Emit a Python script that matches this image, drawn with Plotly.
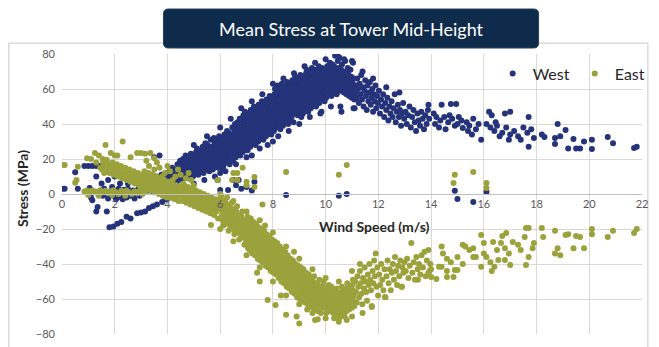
import plotly.graph_objects as go

# Mean stress readings (wind speed m/s, stress MPa), grouped by region of the curve.

west_low = [
    (0.0, 3), (0.1, 3), (0.5, 12.5), (0.6, 3), (0.85, 16), (1.0, 16), (1.15, 16),
    (1.3, 16), (1.45, 16), (1.6, 16), (1.3, 10), (1.05, 3.4), (1.1, -2), (1.15, -3.5),
    (1.3, -10), (1.35, -7.4), (1.7, -10), (1.8, -19), (1.95, -18.5), (2.1, -17),
    (2.25, -16), (2.45, -13), (2.6, -14), (2.85, -11), (3.0, -10.5), (3.15, -10),
    (3.3, -8), (3.45, -7), (3.6, -6), (3.8, -4.5), (3.95, -3), (4.1, -2), (4.25, 0),
    (1.45, 2), (1.55, -1), (1.6, 3), (1.7, 0), (1.75, -2.5), (1.85, 1.5), (1.9, 4),
    (1.95, -1), (2.0, 2), (2.05, -3), (2.1, 0.5), (2.15, 3), (2.2, -1.5), (2.25, 1),
    (2.3, -3), (2.35, 2.5), (2.4, 0), (2.45, -2), (2.5, 3), (2.55, 1), (2.6, -1),
    (2.7, 2), (2.75, -2.5), (2.8, 0.5), (2.9, 3), (2.95, -1), (1.5, 6), (1.75, 8),
    (2.2, 6), (2.5, 6), (2.0, 10), (2.7, 8), (1.9, 15), (2.2, 15),
]

west_rise = [
    (3.02, 2), (3.05, 6), (3.08, 4), (3.12, 1), (3.15, 5), (3.18, 8), (3.22, 3), (3.26, 7),
    (3.31, 2), (3.34, 5), (3.37, 9), (3.42, 4), (3.46, 7), (3.48, 1), (3.51, 6), (3.54, 3),
    (3.57, 10), (3.61, 5), (3.63, 8), (3.67, 2), (3.71, 7), (3.74, 4), (3.77, 11), (3.81, 6),
    (3.84, 9), (3.87, 3), (3.91, 8), (3.93, 5), (3.97, 12), (3.5, 21), (3.7, 22),
    (4.01, 7), (4.03, 10), (4.06, 4), (4.08, 13), (4.11, 9), (4.13, 6), (4.16, 12), (4.18, 15),
    (4.21, 8), (4.23, 11), (4.26, 14), (4.28, 5), (4.31, 10), (4.34, 13), (4.36, 7), (4.38, 17),
    (4.41, 12), (4.43, 9), (4.46, 15), (4.48, 19), (4.51, 11), (4.53, 14), (4.55, 8), (4.57, 17),
    (4.59, 20), (4.61, 13), (4.63, 10), (4.65, 16), (4.68, 19), (4.69, 22), (4.71, 12), (4.73, 15),
    (4.76, 18), (4.78, 9), (4.79, 21), (4.81, 14), (4.83, 17), (4.85, 11), (4.87, 20), (4.89, 23),
    (4.91, 13), (4.93, 16), (4.95, 19), (4.97, 10), (4.99, 22),
    (5.01, 15), (5.03, 18), (5.05, 12), (5.07, 21), (5.09, 24), (5.11, 14), (5.13, 17), (5.15, 20),
    (5.17, 11), (5.19, 23), (5.12, 26), (5.21, 16), (5.23, 19), (5.25, 13), (5.27, 22), (5.29, 25),
    (5.31, 15), (5.33, 18), (5.35, 21), (5.37, 12), (5.39, 24), (5.34, 27), (5.41, 17), (5.43, 20),
    (5.45, 14), (5.47, 23), (5.49, 26), (5.44, 29), (5.51, 16), (5.53, 19), (5.55, 22), (5.57, 25),
    (5.59, 13), (5.52, 28), (5.61, 18), (5.63, 21), (5.65, 15), (5.67, 24), (5.69, 27), (5.64, 31),
    (5.71, 17), (5.73, 20), (5.75, 23), (5.77, 26), (5.79, 29), (5.72, 14), (5.76, 32),
    (5.81, 19), (5.83, 22), (5.85, 16), (5.87, 25), (5.89, 28), (5.84, 31),
    (5.91, 18), (5.93, 21), (5.95, 24), (5.97, 27), (5.99, 30), (5.92, 15), (5.96, 33),
    (6.01, 20), (6.03, 23), (6.05, 17), (6.07, 26), (6.09, 29), (6.04, 32),
    (6.11, 19), (6.13, 22), (6.15, 25), (6.17, 28), (6.19, 31), (6.12, 16), (6.16, 34),
    (6.21, 21), (6.23, 24), (6.25, 18), (6.27, 27), (6.29, 30), (6.24, 33), (6.26, 36),
    (6.31, 20), (6.33, 23), (6.35, 26), (6.37, 29), (6.39, 32), (6.32, 35), (6.36, 17),
    (6.41, 22), (6.43, 25), (6.45, 28), (6.47, 31), (6.49, 19), (6.44, 34), (6.46, 38),
    (6.51, 24), (6.53, 27), (6.55, 30), (6.57, 33), (6.59, 21), (6.54, 36), (6.56, 40),
    (6.61, 23), (6.63, 26), (6.65, 29), (6.67, 32), (6.69, 35), (6.62, 38), (6.66, 41),
    (6.71, 25), (6.73, 28), (6.75, 31), (6.77, 34), (6.79, 37), (6.72, 40), (6.76, 22), (6.74, 43),
    (6.81, 27), (6.83, 30), (6.85, 33), (6.87, 36), (6.89, 39), (6.82, 42), (6.86, 24), (6.88, 45),
    (6.91, 26), (6.93, 29), (6.95, 32), (6.97, 35), (6.99, 38), (6.92, 41), (6.96, 44), (6.94, 47),
    (7.01, 28), (7.03, 31), (7.05, 34), (7.07, 37), (7.09, 40), (7.02, 43), (7.06, 46), (7.04, 25),
    (7.11, 30), (7.13, 33), (7.15, 36), (7.17, 39), (7.19, 42), (7.12, 45), (7.16, 48), (7.14, 27),
    (7.21, 29), (7.23, 32), (7.25, 35), (7.27, 38), (7.29, 41), (7.22, 44), (7.26, 47), (7.28, 50),
    (7.31, 31), (7.33, 34), (7.35, 37), (7.37, 40), (7.39, 43), (7.32, 46), (7.36, 49), (7.34, 28),
    (7.41, 33), (7.43, 36), (7.45, 39), (7.47, 42), (7.49, 45), (7.42, 48), (7.46, 51), (7.44, 30),
    (7.51, 32), (7.53, 35), (7.55, 38), (7.57, 41), (7.59, 44), (7.52, 47), (7.56, 50), (7.58, 53),
    (7.61, 34), (7.63, 37), (7.65, 40), (7.67, 43), (7.69, 46), (7.62, 49), (7.66, 52), (7.64, 31),
    (7.71, 36), (7.73, 39), (7.75, 42), (7.77, 45), (7.79, 48), (7.72, 51), (7.76, 54), (7.74, 33),
    (7.81, 35), (7.83, 38), (7.85, 41), (7.87, 44), (7.89, 47), (7.82, 50), (7.86, 53), (7.88, 56),
    (7.91, 37), (7.93, 40), (7.95, 43), (7.97, 46), (7.99, 49), (7.92, 52), (7.96, 55), (7.94, 34),
]

west_peak = [
    (8.01, 39), (8.03, 42), (8.05, 45), (8.07, 48), (8.09, 51), (8.02, 54), (8.06, 57), (8.04, 36), (8.08, 60),
    (8.11, 38), (8.13, 41), (8.15, 44), (8.17, 47), (8.19, 50), (8.12, 53), (8.16, 56), (8.14, 59), (8.18, 62),
    (8.21, 40), (8.23, 43), (8.25, 46), (8.27, 49), (8.29, 52), (8.22, 55), (8.26, 58), (8.24, 61), (8.28, 37),
    (8.31, 42), (8.33, 45), (8.35, 48), (8.37, 51), (8.39, 54), (8.32, 57), (8.36, 60), (8.34, 63), (8.38, 39),
    (8.41, 41), (8.43, 44), (8.45, 47), (8.47, 50), (8.49, 53), (8.42, 56), (8.46, 59), (8.44, 62),
    (8.51, 43), (8.53, 46), (8.55, 49), (8.57, 52), (8.59, 55), (8.52, 58), (8.56, 61), (8.54, 64), (8.58, 40),
    (8.61, 45), (8.63, 48), (8.65, 51), (8.67, 54), (8.69, 57), (8.62, 60), (8.66, 63), (8.64, 42),
    (8.71, 44), (8.73, 47), (8.75, 50), (8.77, 53), (8.79, 56), (8.72, 59), (8.76, 62), (8.74, 65), (8.78, 41),
    (8.81, 46), (8.83, 49), (8.85, 52), (8.87, 55), (8.89, 58), (8.82, 61), (8.86, 64), (8.84, 67),
    (8.91, 48), (8.93, 51), (8.95, 54), (8.97, 57), (8.99, 60), (8.92, 63), (8.96, 66), (8.94, 45),
    (9.01, 47), (9.03, 50), (9.05, 53), (9.07, 56), (9.09, 59), (9.02, 62), (9.06, 65), (9.04, 68), (9.08, 44),
    (9.11, 49), (9.13, 52), (9.15, 55), (9.17, 58), (9.19, 61), (9.12, 64), (9.16, 67), (9.14, 46),
    (9.21, 51), (9.23, 54), (9.25, 57), (9.27, 60), (9.29, 63), (9.22, 66), (9.26, 69), (9.24, 48), (9.28, 71),
    (9.31, 50), (9.33, 53), (9.35, 56), (9.37, 59), (9.39, 62), (9.32, 65), (9.36, 68), (9.34, 47),
    (9.41, 52), (9.43, 55), (9.45, 58), (9.47, 61), (9.49, 64), (9.42, 67), (9.46, 70), (9.44, 49), (9.48, 72),
    (9.51, 54), (9.53, 57), (9.55, 60), (9.57, 63), (9.59, 66), (9.52, 69), (9.56, 51),
    (9.61, 53), (9.63, 56), (9.65, 59), (9.67, 62), (9.69, 65), (9.62, 68), (9.66, 71), (9.64, 50),
    (9.71, 55), (9.73, 58), (9.75, 61), (9.77, 64), (9.79, 67), (9.72, 70), (9.76, 52), (9.74, 73),
    (9.81, 57), (9.83, 60), (9.85, 63), (9.87, 66), (9.89, 69), (9.82, 54), (9.86, 72), (9.84, 47),
    (9.91, 56), (9.93, 59), (9.95, 62), (9.97, 65), (9.99, 68), (9.92, 71), (9.96, 53),
    (10.01, 58), (10.03, 61), (10.05, 64), (10.07, 67), (10.09, 70), (10.02, 55), (10.06, 73),
    (10.11, 60), (10.13, 63), (10.15, 66), (10.17, 69), (10.19, 57), (10.12, 72), (10.16, 75),
    (10.21, 59), (10.23, 62), (10.25, 65), (10.27, 68), (10.29, 71), (10.22, 56), (10.26, 74),
    (10.31, 61), (10.33, 64), (10.35, 67), (10.37, 70), (10.39, 58), (10.32, 73), (10.36, 79),
    (10.41, 60), (10.43, 63), (10.45, 66), (10.47, 69), (10.49, 72), (10.42, 57), (10.46, 76),
    (10.51, 62), (10.53, 65), (10.55, 68), (10.57, 59), (10.59, 71), (10.52, 78), (10.56, 50),
    (10.61, 61), (10.63, 64), (10.65, 67), (10.67, 70), (10.69, 58), (10.62, 74),
    (10.71, 63), (10.73, 66), (10.75, 60), (10.77, 69), (10.79, 57), (10.74, 76),
    (10.81, 62), (10.83, 65), (10.85, 59), (10.87, 68), (10.89, 56), (10.84, 72),
    (10.91, 61), (10.93, 64), (10.95, 58), (10.97, 67), (10.99, 55), (10.94, 71),
    (11.01, 60), (11.03, 63), (11.05, 57), (11.07, 66), (11.09, 54), (11.04, 75), (11.06, 49),
]

# scattered readings along both edges of the west band
west_fringe = [
    (5.0, 6), (5.4, 8), (5.8, 10), (6.2, 13), (6.6, 17), (7.0, 21), (7.5, 26), (7.8, 28),
    (8.2, 33), (8.6, 36), (9.0, 40), (9.4, 44), (9.8, 46), (10.2, 50), (10.6, 47), (11.1, 49),
    (8.0, 30), (7.2, 22),
    (5.0, 28), (5.5, 33), (6.0, 38), (6.4, 43), (6.8, 49), (7.2, 53), (7.6, 57), (8.0, 63),
    (8.4, 66), (8.8, 69), (9.2, 73), (9.6, 75), (10.0, 77), (10.45, 79), (10.7, 77), (11.0, 76),
    (11.4, 70), (11.8, 66), (12.3, 61), (12.8, 58),
]

west_tail = [
    (11.12, 58), (11.15, 62), (11.18, 55), (11.2, 66), (11.23, 60), (11.26, 52), (11.29, 63), (11.32, 57),
    (11.35, 68), (11.38, 54), (11.41, 61), (11.44, 50), (11.47, 59), (11.5, 65), (11.53, 56), (11.56, 48),
    (11.59, 62), (11.62, 53), (11.65, 58), (11.68, 64), (11.71, 51), (11.74, 55), (11.77, 60), (11.8, 47),
    (11.83, 57), (11.86, 53), (11.89, 62), (11.92, 49), (11.95, 56), (11.98, 52),
    (12.02, 59), (12.06, 46), (12.1, 54), (12.14, 50), (12.18, 57), (12.22, 44), (12.26, 52), (12.3, 48),
    (12.34, 55), (12.38, 42), (12.42, 50), (12.46, 46), (12.5, 53), (12.54, 44), (12.58, 49), (12.62, 57),
    (12.66, 41), (12.7, 47), (12.74, 51), (12.78, 44), (12.82, 48), (12.86, 39), (12.9, 46), (12.94, 52),
    (12.98, 43),
    (13.03, 47), (13.08, 40), (13.13, 45), (13.18, 50), (13.23, 38), (13.28, 44), (13.33, 48), (13.38, 41),
    (13.43, 36), (13.48, 46), (13.53, 42), (13.58, 39), (13.63, 47), (13.68, 43), (13.73, 37), (13.78, 45),
    (13.83, 40), (13.88, 48), (13.93, 43),
    (13.9, 51), (14.1, 46), (14.4, 51), (14.75, 51.4), (14.95, 51.4), (14.2, 44), (14.35, 42), (14.5, 44),
    (14.65, 41), (14.8, 43), (14.9, 39), (15.05, 44), (14.15, 40), (14.3, 38), (14.55, 37), (14.7, 45),
    (15.0, 40), (15.35, 41), (15.2, 37.7), (15.4, 36), (15.55, 34), (15.7, 37), (15.9, 31), (15.15, 42),
    (15.45, 39), (15.8, 40), (15.6, 43),
    (16.2, 47), (16.3, 45), (16.1, 40), (16.25, 38), (16.4, 36), (16.5, 39), (16.6, 33), (16.7, 35),
    (16.8, 46), (17.0, 47), (16.85, 38), (17.0, 34), (17.15, 36), (17.3, 33), (17.4, 31), (16.45, 41),
    (16.95, 31), (17.7, 44), (17.5, 38), (17.65, 35), (17.8, 37), (17.7, 27), (17.9, 32),
    (18.2, 34), (18.3, 32.6), (18.7, 28.6), (18.8, 40), (18.7, 32), (18.9, 33), (19.1, 36.6), (19.2, 26),
    (19.4, 31.5), (19.5, 26), (19.65, 26), (19.8, 30), (20.1, 31), (20.1, 25.7), (20.7, 32.6), (20.9, 29),
    (21.7, 26.3), (21.8, 27),
]

west_outliers = [
    (5.9, 8), (6.0, 2.3), (6.3, 2.3), (6.5, 8), (6.7, 8), (6.8, 3), (7.0, 4), (7.3, 7), (7.2, 2),
    (6.6, 5), (8.5, -0.6), (10.5, -1), (10.8, 0), (14.9, 1.8), (15.0, -2.8), (15.6, -4.6), (16.1, 1.2),
    (6.0, 12), (6.1, 14),
]

east_low = [
    (0.0, 16.6), (0.1, 16.6), (0.6, 15.6), (0.5, 6.5), (0.55, 8), (0.95, 20.5), (1.1, 20), (1.25, 23.4),
    (1.4, 22), (1.55, 20), (1.7, 19.4), (1.65, 28), (2.3, 30), (2.0, 22), (2.1, 22), (2.6, 21),
    (2.85, 23.4), (3.0, 23.5), (3.15, 23), (3.35, 23.4), (3.5, 20.5), (1.85, 23.4), (1.3, 18), (1.45, 15),
    (1.6, 12), (1.8, 14),
    (0.85, 1.5), (0.95, 2), (1.05, 1), (1.15, 2), (1.25, 1.5), (1.35, 0.5), (1.45, 2), (1.55, 1),
    (1.65, 1.8), (1.75, 0.5), (1.85, 1.5), (1.95, 2.2), (2.05, 1), (2.15, 0), (2.25, 1.8), (2.35, 0.8),
    (2.45, 2), (2.55, 1), (2.65, 0), (2.75, 1.5), (2.85, 0.5), (2.95, 1.8), (3.05, 0), (3.15, 1),
    (1.0, -0.5), (1.4, -1), (1.9, -0.5), (2.4, -1),
]

east_fall = [
    (1.52, 14), (1.56, 18), (1.6, 16), (1.64, 13), (1.68, 19), (1.72, 15), (1.76, 17), (1.8, 12),
    (1.84, 16), (1.88, 14), (1.92, 18), (1.96, 11), (2.0, 15), (2.04, 13), (2.08, 17), (2.12, 10),
    (2.16, 14), (2.2, 12), (2.24, 16), (2.28, 9), (2.32, 13), (2.36, 11), (2.4, 15), (2.44, 8),
    (2.48, 12), (2.52, 10), (2.56, 14), (2.6, 7), (2.64, 11), (2.68, 9), (2.72, 13), (2.76, 6),
    (2.8, 10), (2.84, 8), (2.88, 12), (2.92, 5), (2.96, 9),
    (3.01, 7), (3.04, 11), (3.07, 4), (3.1, 9), (3.13, 13), (3.16, 6), (3.19, 10), (3.22, 3),
    (3.25, 8), (3.28, 12), (3.31, 5), (3.34, 9), (3.37, 2), (3.4, 7), (3.43, 11), (3.46, 4),
    (3.49, 8), (3.52, 1), (3.55, 6), (3.58, 10), (3.61, 3), (3.64, 7), (3.67, 0), (3.7, 5),
    (3.73, 9), (3.76, 2), (3.79, 6), (3.82, -1), (3.85, 4), (3.88, 8), (3.91, 1), (3.94, 5),
    (3.97, -2), (4.0, 3), (4.03, 7), (4.06, 0), (4.09, 4), (4.12, -2), (4.15, 2), (4.18, 6),
    (4.21, -1), (4.24, 3), (4.27, -3), (4.3, 1), (4.33, 5), (4.36, -2), (4.39, 2), (4.42, -4),
    (4.45, 0), (4.48, 4),
    (3.3, 16), (3.5, 14), (3.7, 15), (3.9, 12), (4.1, 13), (4.3, 10), (4.5, 11), (4.7, 9),
    (4.9, 8), (3.6, 18), (4.0, 16), (4.4, 14), (4.8, 12), (4.2, 8), (4.6, 6), (5.0, 5),
    (3.2, 19), (3.8, 10),
    (4.51, -1), (4.54, 3), (4.57, -4), (4.6, 1), (4.63, 5), (4.66, -2), (4.69, 2), (4.72, -5),
    (4.75, 0), (4.78, 4), (4.81, -3), (4.84, 1), (4.87, -6), (4.9, -1), (4.93, 3), (4.96, -4),
    (4.99, 0), (5.02, -7), (5.05, -2), (5.08, 2), (5.11, -5), (5.14, -1), (5.17, -8), (5.2, -3),
    (5.23, 1), (5.26, -6), (5.29, -2), (5.32, -9), (5.35, -4), (5.38, 0), (5.41, -7), (5.44, -3),
    (5.47, -10), (5.5, -5), (5.53, -1), (5.56, -8), (5.59, -4), (5.62, -11), (5.65, -6), (5.68, -2),
    (5.71, -9), (5.74, -5), (5.77, -12), (5.8, -7), (5.83, -3), (5.86, -10), (5.89, -6), (5.92, -14),
    (5.95, -8), (5.98, -4),
    (6.01, -3), (6.03, -6), (6.05, -9), (6.07, -12), (6.09, -15), (6.04, -1),
    (6.11, -4), (6.13, -7), (6.15, -10), (6.17, -13), (6.19, -16), (6.12, -18),
    (6.21, -5), (6.23, -8), (6.25, -11), (6.27, -14), (6.29, -17), (6.26, -2),
    (6.31, -7), (6.33, -10), (6.35, -13), (6.37, -16), (6.39, -19), (6.32, -21),
    (6.41, -8), (6.43, -11), (6.45, -14), (6.47, -17), (6.49, -20), (6.44, -5),
    (6.51, -9), (6.53, -12), (6.55, -15), (6.57, -18), (6.59, -21), (6.54, -23),
    (6.61, -10), (6.63, -13), (6.65, -16), (6.67, -19), (6.69, -22), (6.64, -7),
    (6.71, -12), (6.73, -15), (6.75, -18), (6.77, -21), (6.79, -24), (6.72, -26),
    (6.81, -13), (6.83, -16), (6.85, -19), (6.87, -22), (6.89, -25), (6.84, -10),
    (6.91, -15), (6.93, -18), (6.95, -21), (6.97, -24), (6.99, -27), (6.92, -29),
    (7.01, -16), (7.03, -19), (7.05, -22), (7.07, -25), (7.09, -28), (7.04, -13), (7.06, -31),
    (7.11, -17), (7.13, -20), (7.15, -23), (7.17, -26), (7.19, -29), (7.12, -32), (7.16, -14),
    (7.21, -19), (7.23, -22), (7.25, -25), (7.27, -28), (7.29, -31), (7.22, -34), (7.26, -16),
    (7.31, -20), (7.33, -23), (7.35, -26), (7.37, -29), (7.39, -32), (7.32, -35), (7.36, -17),
    (7.41, -22), (7.43, -25), (7.45, -28), (7.47, -31), (7.49, -34), (7.42, -37), (7.46, -19),
    (7.51, -23), (7.53, -26), (7.55, -29), (7.57, -32), (7.59, -35), (7.52, -38), (7.56, -20),
    (7.61, -24), (7.63, -27), (7.65, -30), (7.67, -33), (7.69, -36), (7.62, -39), (7.66, -21),
    (7.71, -26), (7.73, -29), (7.75, -32), (7.77, -35), (7.79, -38), (7.72, -41), (7.76, -23),
    (7.81, -27), (7.83, -30), (7.85, -33), (7.87, -36), (7.89, -39), (7.82, -42), (7.86, -24),
    (7.91, -29), (7.93, -32), (7.95, -35), (7.97, -38), (7.99, -41), (7.92, -44), (7.96, -26),
]

east_trough = [
    (8.01, -30), (8.03, -33), (8.05, -36), (8.07, -39), (8.09, -42), (8.02, -45), (8.06, -27),
    (8.11, -31), (8.13, -34), (8.15, -37), (8.17, -40), (8.19, -43), (8.12, -46), (8.16, -28),
    (8.21, -33), (8.23, -36), (8.25, -39), (8.27, -42), (8.29, -45), (8.22, -48), (8.26, -30),
    (8.31, -35), (8.33, -38), (8.35, -41), (8.37, -44), (8.39, -47), (8.32, -50), (8.36, -32),
    (8.41, -36), (8.43, -39), (8.45, -42), (8.47, -45), (8.49, -48), (8.42, -51), (8.46, -33),
    (8.51, -38), (8.53, -41), (8.55, -44), (8.57, -47), (8.59, -50), (8.52, -53), (8.56, -35),
    (8.61, -39), (8.63, -42), (8.65, -45), (8.67, -48), (8.69, -51), (8.62, -54), (8.66, -37),
    (8.71, -41), (8.73, -44), (8.75, -47), (8.77, -50), (8.79, -53), (8.72, -56), (8.76, -38),
    (8.81, -42), (8.83, -45), (8.85, -48), (8.87, -51), (8.89, -54), (8.82, -57), (8.86, -40),
    (8.91, -44), (8.93, -47), (8.95, -50), (8.97, -53), (8.99, -56), (8.92, -59), (8.96, -41),
    (9.01, -45), (9.03, -48), (9.05, -51), (9.07, -54), (9.09, -57), (9.02, -60), (9.06, -42),
    (9.11, -46), (9.13, -49), (9.15, -52), (9.17, -55), (9.19, -58), (9.12, -61), (9.16, -43),
    (9.21, -47), (9.23, -50), (9.25, -53), (9.27, -56), (9.29, -59), (9.22, -62), (9.26, -45),
    (9.31, -48), (9.33, -51), (9.35, -54), (9.37, -57), (9.39, -60), (9.32, -63), (9.36, -46),
    (9.41, -49), (9.43, -52), (9.45, -55), (9.47, -58), (9.49, -61), (9.42, -64),
    (9.51, -50), (9.53, -53), (9.55, -56), (9.57, -59), (9.59, -62), (9.52, -65), (9.56, -47),
    (9.61, -51), (9.63, -54), (9.65, -57), (9.67, -60), (9.69, -63), (9.62, -66),
    (9.71, -52), (9.73, -55), (9.75, -58), (9.77, -61), (9.79, -64), (9.72, -67), (9.76, -49),
    (9.81, -53), (9.83, -56), (9.85, -59), (9.87, -62), (9.89, -65), (9.82, -68),
    (9.91, -53), (9.93, -56), (9.95, -59), (9.97, -62), (9.99, -65), (9.92, -50),
    (10.01, -54), (10.03, -57), (10.05, -60), (10.07, -63), (10.09, -66), (10.02, -68),
    (10.11, -55), (10.13, -58), (10.15, -61), (10.17, -64), (10.19, -67), (10.12, -52),
    (10.21, -56), (10.23, -59), (10.25, -62), (10.27, -65), (10.29, -68), (10.22, -53),
    (10.31, -56), (10.33, -59), (10.35, -62), (10.37, -65), (10.39, -68), (10.32, -71),
    (10.41, -57), (10.43, -60), (10.45, -63), (10.47, -66), (10.49, -69), (10.42, -54),
    (10.51, -57), (10.53, -60), (10.55, -63), (10.57, -66), (10.59, -69), (10.52, -71),
    (10.61, -56), (10.63, -59), (10.65, -62), (10.67, -65), (10.69, -68), (10.62, -53),
    (10.71, -55), (10.73, -58), (10.75, -61), (10.77, -64), (10.79, -67), (10.72, -70),
    (10.81, -54), (10.83, -57), (10.85, -60), (10.87, -63), (10.89, -66), (10.82, -51),
    (10.91, -53), (10.93, -56), (10.95, -59), (10.97, -62), (10.99, -65),
    (11.01, -52), (11.03, -55), (11.05, -58), (11.07, -61), (11.09, -64), (11.04, -49),
]

# scattered readings along both edges of the east band
east_fringe = [
    (6.0, 0), (6.5, -4), (7.0, -10), (7.5, -15), (7.7, -18), (8.0, -22), (8.5, -30), (8.8, -33),
    (9.0, -37), (9.5, -43), (10.0, -48), (10.5, -50), (11.0, -44), (11.3, -40),
    (6.0, -20), (6.5, -27), (7.0, -35), (7.5, -42), (8.0, -50), (8.5, -58), (9.0, -63),
    (9.3, -66), (9.5, -68), (10.0, -71), (10.5, -73), (10.8, -72), (11.0, -70), (11.4, -68),
]

east_tail = [
    (11.12, -50), (11.15, -56), (11.18, -62), (11.21, -47), (11.24, -53), (11.27, -59), (11.3, -44),
    (11.33, -51), (11.36, -57), (11.39, -63), (11.42, -48), (11.45, -54), (11.48, -42), (11.51, -50),
    (11.54, -56), (11.57, -61), (11.6, -46), (11.63, -52), (11.66, -40), (11.69, -49), (11.72, -55),
    (11.75, -64), (11.78, -44), (11.81, -51), (11.84, -38), (11.87, -47), (11.9, -34), (11.93, -53),
    (11.96, -42), (11.99, -58),
    (12.03, -46), (12.07, -52), (12.11, -40), (12.15, -49), (12.19, -55), (12.23, -43), (12.27, -59),
    (12.31, -47), (12.35, -38), (12.39, -51), (12.43, -43), (12.47, -55), (12.51, -45), (12.55, -40),
    (12.59, -49), (12.63, -36), (12.67, -44), (12.71, -52), (12.75, -41), (12.79, -47), (12.83, -38),
    (12.87, -53), (12.91, -42), (12.95, -45), (12.99, -39),
    (13.04, -44), (13.09, -37), (13.14, -48), (13.19, -41), (13.25, -28), (13.29, -45), (13.34, -39),
    (13.39, -49), (13.44, -36), (13.49, -43), (13.54, -40), (13.59, -46), (13.64, -35), (13.69, -42),
    (13.75, -33), (13.79, -47), (13.84, -38), (13.9, -32), (13.94, -44), (13.97, -40),
    (13.9, -45), (14.0, -47.4), (14.2, -48.6), (14.4, -30), (14.45, -34), (14.6, -37), (14.75, -39),
    (14.3, -41.6), (14.4, -41.6), (14.6, -47.4), (14.85, -47.4), (14.9, -43.4), (15.0, -43.4),
    (15.0, -36), (15.2, -29), (15.3, -30), (15.45, -32), (15.6, -31), (15.6, -36), (15.7, -36),
    (15.9, -23.4), (16.0, -28), (16.0, -34), (15.9, -41.6), (16.1, -36), (16.25, -39), (16.4, -41.6),
    (16.35, -27.4), (16.5, -32), (16.3, -44), (16.55, -37.7), (16.7, -24), (16.85, -22.3),
    (16.65, -28), (16.8, -31), (16.95, -34), (16.8, -37.7), (17.0, -40.6), (17.1, -27.4),
    (17.3, -29), (17.4, -32), (17.55, -24.6), (17.6, -19.4), (17.7, -19.4), (17.6, -40.6),
    (17.7, -36), (17.85, -31), (17.9, -28), (18.2, -19.4), (18.25, -24.6), (18.7, -21),
    (18.8, -31), (18.7, -34), (18.9, -35), (19.1, -23.4), (19.2, -23), (19.4, -31), (19.5, -24),
    (19.65, -24.6), (19.8, -31), (20.1, -20), (20.1, -23), (20.7, -24.6), (20.9, -21),
    (21.7, -22.3), (21.8, -20),
]

east_outliers = [
    (5.9, 8), (6.5, 12), (6.65, 12), (6.85, 15), (6.45, 8), (6.65, 8), (7.0, 7), (7.3, 9.7),
    (7.3, 4), (8.5, 12.6), (7.6, -6), (10.5, 11), (10.8, 16.6), (14.9, 11), (15.6, 12.6),
    (14.85, 6.3), (16.1, 6.3), (16.1, 3.4), (7.0, 5), (5.65, -17.7),
    (7.8, -60.6), (8.1, -63.4), (8.5, -69), (8.9, -70), (9.0, -74), (9.6, -72), (9.7, -71.6),
    (7.5, -50), (7.4, -45), (8.3, -58), (11.75, -64.6), (12.25, -58.9), (12.9, -53),
    (13.5, -49), (14.0, -43), (14.6, -44), (15.2, -40),
]

x_ticks = list(range(0, 23, 2))
y_ticks = list(range(-80, 81, 20))

WEST_COLOR = "#24337a"
EAST_COLOR = "#9ba23b"
FONT = "Lato"


def split(*groups):
    pts = [p for g in groups for p in g]
    return [p[0] for p in pts], [p[1] for p in pts]


west_wind, west_stress = split(west_low, west_rise, west_peak, west_fringe, west_tail, west_outliers)
east_wind, east_stress = split(east_low, east_fall, east_trough, east_fringe, east_tail, east_outliers)

fig = go.Figure()
fig.add_trace(go.Scatter(
    x=west_wind, y=west_stress, mode="markers", name="West",
    marker=dict(color=WEST_COLOR, size=6, line=dict(width=0)),
))
fig.add_trace(go.Scatter(
    x=east_wind, y=east_stress, mode="markers", name="East",
    marker=dict(color=EAST_COLOR, size=6, line=dict(width=0)),
))

fig.update_layout(
    width=659, height=347,
    margin=dict(l=62, r=8, t=54, b=13),
    paper_bgcolor="white", plot_bgcolor="white",
    font=dict(family=FONT, color="#595959"),
    showlegend=True,
    legend=dict(
        orientation="h", x=1.015, xanchor="right", y=0.93, yanchor="middle",
        font=dict(size=16, color="#262626", family=FONT),
        itemwidth=30, bgcolor="rgba(0,0,0,0)",
        tracegroupgap=0,
    ),
    xaxis=dict(
        range=[0, 22], tickvals=x_ticks, ticktext=[str(v) for v in x_ticks],
        showgrid=True, gridcolor="#d9d9d9", gridwidth=1,
        zeroline=False, showline=True, linecolor="#bfbfbf",
        anchor="free", position=0.5, ticks="",
        tickfont=dict(size=11, color="#595959"),
    ),
    yaxis=dict(
        range=[-80, 80], tickvals=y_ticks,
        showgrid=True, gridcolor="#d9d9d9", gridwidth=1,
        zeroline=False, showline=False, ticks="",
        tickfont=dict(size=11, color="#595959"),
        ticklabelstandoff=6,
    ),
    shapes=[
        # outer chart frame
        dict(type="rect", xref="paper", yref="paper",
             x0=-0.0917, x1=1.0102, y0=-0.05, y1=1.039,
             line=dict(color="#c8c8c8", width=1), fillcolor="rgba(0,0,0,0)", layer="below"),
        # rounded title banner
        dict(type="path", xref="paper", yref="paper",
             path=("M 0.1834,1.1607 L 0.8132,1.1607 Q 0.8217,1.1607 0.8217,1.1428 "
                   "L 0.8217,1.0393 Q 0.8217,1.0214 0.8132,1.0214 L 0.1834,1.0214 "
                   "Q 0.1749,1.0214 0.1749,1.0393 L 0.1749,1.1428 Q 0.1749,1.1607 0.1834,1.1607 Z"),
             fillcolor="#0f2b4c", line=dict(color="#27415f", width=1)),
    ],
    annotations=[
        dict(text="Mean Stress at Tower Mid-Height", xref="paper", yref="paper",
             x=0.4983, y=1.091, xanchor="center", yanchor="middle", showarrow=False,
             font=dict(size=18, color="white", family=FONT)),
        dict(text="<b>Stress (MPa)</b>", xref="paper", yref="paper",
             x=-0.068, y=0.52, xanchor="center", yanchor="middle", textangle=-90,
             showarrow=False, font=dict(size=14, color="#262626", family=FONT)),
        dict(text="<b>Wind Speed (m/s)</b>", xref="x", yref="y",
             x=11.84, y=-18.5, xanchor="center", yanchor="middle",
             showarrow=False, font=dict(size=14, color="#262626", family=FONT)),
    ],
)

fig.write_html("out.html")
